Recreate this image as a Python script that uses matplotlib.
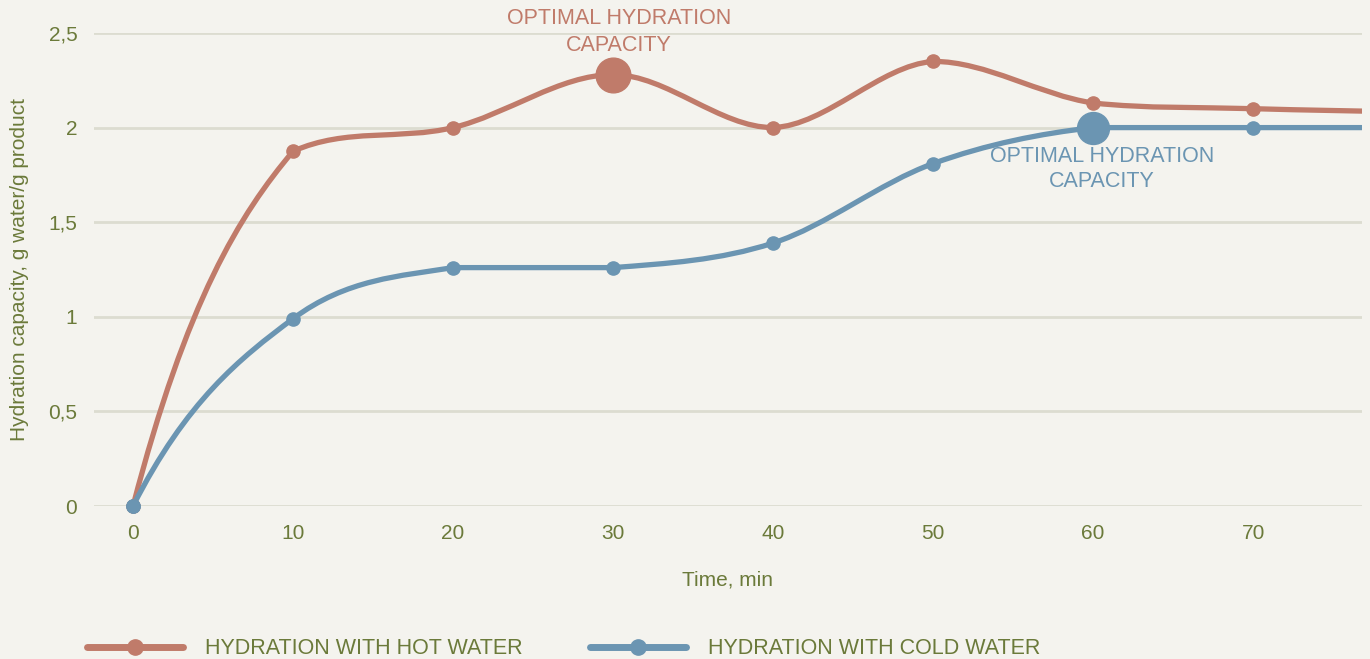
import numpy as np
import matplotlib
matplotlib.use("Agg")
import matplotlib.pyplot as plt
from matplotlib.path import Path
from matplotlib.patches import PathPatch
from matplotlib.lines import Line2D

# ---- data ----
time_min = [0, 10, 20, 30, 40, 50, 60, 70, 80]
hot_water = [0, 1.875, 2.0, 2.28, 2.0, 2.35, 2.13, 2.10, 2.08]
cold_water = [0, 0.99, 1.26, 1.26, 1.39, 1.81, 2.0, 2.0, 2.0]
x_ticks = [0, 10, 20, 30, 40, 50, 60, 70]
y_ticks = [0, 0.5, 1, 1.5, 2, 2.5]
y_tick_labels = ["0", "0,5", "1", "1,5", "2", "2,5"]
hot_label = "HYDRATION WITH HOT WATER"
cold_label = "HYDRATION WITH COLD WATER"
annot_text = "OPTIMAL HYDRATION\nCAPACITY"
hot_optimal = (30, 2.28)
cold_optimal = (60, 2.0)

HOT = "#c07b6a"
COLD = "#6b95b2"
TEXT = "#6b7a3a"
BG = "#f4f3ee"
GRID = "#dcdcd0"
FONT = ["Liberation Sans", "DejaVu Sans"]


def spline_path(xs, ys):
    """Catmull-Rom style spline with control points kept inside each segment's range."""
    n = len(xs)
    tang = [0.0] * n
    for i in range(1, n - 1):
        tang[i] = (ys[i + 1] - ys[i - 1]) / (xs[i + 1] - xs[i - 1])
    s0 = (ys[1] - ys[0]) / (xs[1] - xs[0])
    tang[0] = 2 * s0 - tang[1] / 2
    sn = (ys[-1] - ys[-2]) / (xs[-1] - xs[-2])
    tang[-1] = 2 * sn - tang[-2] / 2
    verts = [(xs[0], ys[0])]
    codes = [Path.MOVETO]
    for i in range(n - 1):
        x0, y0, x1, y1 = xs[i], ys[i], xs[i + 1], ys[i + 1]
        dx = x1 - x0
        lo, hi = min(y0, y1), max(y0, y1)
        c1 = (x0 + dx / 3, float(np.clip(y0 + tang[i] * dx / 3, lo, hi)))
        c2 = (x1 - dx / 3, float(np.clip(y1 - tang[i + 1] * dx / 3, lo, hi)))
        verts += [c1, c2, (x1, y1)]
        codes += [Path.CURVE4] * 3
    return Path(verts, codes)


fig = plt.figure(figsize=(13.7, 6.59), dpi=100, facecolor=BG)
ax = fig.add_axes([94 / 1370, 1 - 506 / 659, (1362 - 94) / 1370, (506 - 33) / 659])
ax.set_facecolor(BG)

ax.set_xlim(-2.44, 76.8)
ax.set_ylim(0, 2.5)

for y in y_ticks:
    ax.axhline(y, color=GRID, lw=2.0, zorder=0)

for ys, col in [(hot_water, HOT), (cold_water, COLD)]:
    p = spline_path(time_min, ys)
    ax.add_patch(PathPatch(p, facecolor="none", edgecolor=col, lw=3.8,
                           capstyle="round", zorder=2))
    ax.plot(time_min, ys, linestyle="none", marker="o", ms=9.5, color=col,
            zorder=3, clip_on=False)

ax.plot([time_min[0]], [cold_water[0]], linestyle="none", marker="o", ms=9.5,
        color=COLD, zorder=4, clip_on=False)
ax.plot(*hot_optimal, marker="o", ms=25, color=HOT, zorder=4)
ax.plot(*cold_optimal, marker="o", ms=23, color=COLD, zorder=4)

ax.text(30.375, 2.505, annot_text, ha="center", va="center", color=HOT,
        fontsize=15.5, family=FONT, linespacing=1.33, zorder=5)
ax.text(60.56, 1.78, annot_text, ha="center", va="center", color=COLD,
        fontsize=15.5, family=FONT, linespacing=1.28, zorder=5)

for s in ax.spines.values():
    s.set_visible(False)
ax.set_xticks(x_ticks)
ax.set_xticklabels([str(v) for v in x_ticks], family=FONT, fontsize=15, color=TEXT)
ax.set_yticks(y_ticks)
ax.set_yticklabels(y_tick_labels, family=FONT, fontsize=15, color=TEXT)
ax.tick_params(axis="both", length=0)
ax.tick_params(axis="x", pad=13)
ax.tick_params(axis="y", pad=12)

ax.set_xlabel("Time, min", family=FONT, fontsize=15, color=TEXT, labelpad=20)
ax.set_ylabel("Hydration capacity, g water/g product", family=FONT, fontsize=15,
              color=TEXT, labelpad=14)

handles = [Line2D([], [], color=HOT, lw=5, marker="o", ms=11, solid_capstyle="round"),
           Line2D([], [], color=COLD, lw=5, marker="o", ms=11, solid_capstyle="round")]
fig.legend(handles, [hot_label, cold_label], loc="center left",
           bbox_to_anchor=(87 / 1370, 1 - 649 / 659), ncol=2, frameon=False,
           borderpad=0, borderaxespad=0, handlelength=4.45, handletextpad=1.05,
           columnspacing=3.1, prop={"family": FONT, "size": 15.5},
           labelcolor=TEXT)

fig.savefig("out.png", dpi=100, facecolor=BG)
